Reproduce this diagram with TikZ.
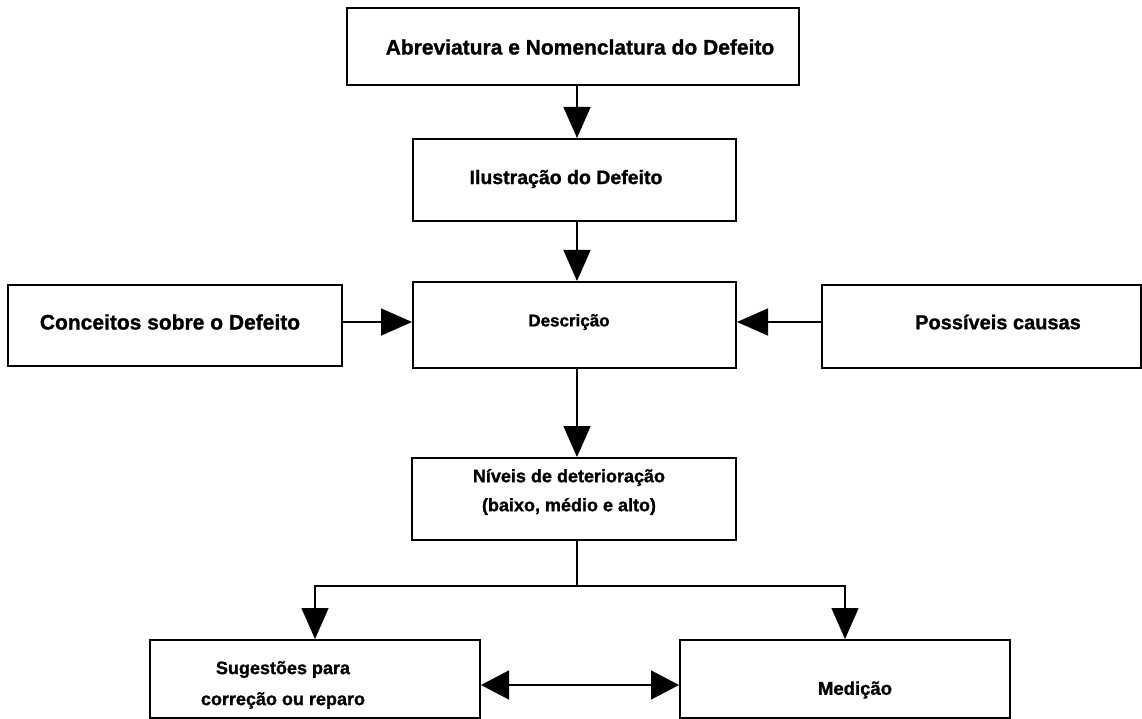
\documentclass[tikz,border=0pt]{standalone}
\usepackage{fontspec}
\setmainfont{Liberation Sans}[BoldFeatures={FakeBold=1.2}]
\usetikzlibrary{arrows.meta}
\begin{document}
\begin{tikzpicture}[x=1pt,y=-1pt,
  box/.style={draw=black,line width=2pt,inner sep=0pt,minimum width=#1},
  txt/.style={font=\bfseries\fontsize{19}{29}\selectfont,align=center,inner sep=0pt},
  arr/.style={line width=1.5pt,-{Triangle[length=31pt,width=27pt]}},
  darr/.style={line width=1.5pt,{Triangle[length=28pt,width=29pt]}-{Triangle[length=28pt,width=29pt]}}
]
\useasboundingbox[fill=white] (0,0) rectangle (1142,719);
% boxes
\node[box=452pt,minimum height=77pt] (A) at (573,46.5) {};
\node[box=323pt,minimum height=82pt] (B) at (574.5,180) {};
\node[box=323pt,minimum height=86pt] (C) at (574.5,325) {};
\node[box=334pt,minimum height=81pt] (L) at (175,325.5) {};
\node[box=319pt,minimum height=83pt] (R) at (981.5,326.5) {};
\node[box=324pt,minimum height=82pt] (D) at (574,499) {};
\node[box=330pt,minimum height=78pt] (E) at (315,679) {};
\node[box=330pt,minimum height=78pt] (F) at (845,679) {};
% texts
\node[txt,font=\bfseries\fontsize{21}{25}\selectfont] (tA) at (580,47) {Abreviatura e Nomenclatura do Defeito};
\node[txt,font=\bfseries\fontsize{19.5}{24}\selectfont] (tB) at (566,179) {Ilustração do Defeito};
\node[txt,font=\bfseries\fontsize{17}{22}\selectfont] (tC) at (569,322) {Descrição};
\node[txt,font=\bfseries\fontsize{21}{25}\selectfont] (tL) at (170,322) {Conceitos sobre o Defeito};
\node[txt,font=\bfseries\fontsize{20}{24}\selectfont] (tR) at (998,322) {Possíveis causas};
\node[txt,font=\bfseries\fontsize{18}{29}\selectfont] (tD) at (569,492) {Níveis de deterioração\\(baixo, médio e alto)};
\node[txt,font=\bfseries\fontsize{18}{31}\selectfont] (tE) at (283,685) {Sugestões para\\correção ou reparo};
\node[txt,font=\bfseries\fontsize{18.5}{24}\selectfont] (tF) at (855,690) {Medição};
% connectors
\coordinate (sp) at (577,0);
\coordinate (j) at (577,586);
\coordinate (dy) at (0,685);
\draw[arr] (A.south -| sp) -- (B.north -| sp);
\draw[arr] (B.south -| sp) -- (C.north -| sp);
\draw[arr] (L.east |- tC) -- (C.west |- tC);
\draw[arr] (R.west |- tC) -- (C.east |- tC);
\draw[arr] (C.south -| sp) -- (D.north -| sp);
\draw[line width=1.5pt] (D.south -| sp) -- (j);
\draw[arr] (j) -| (E.north);
\draw[arr] (j) -| (F.north);
\draw[darr] (E.east |- dy) -- (F.west |- dy);
\end{tikzpicture}
\end{document}
